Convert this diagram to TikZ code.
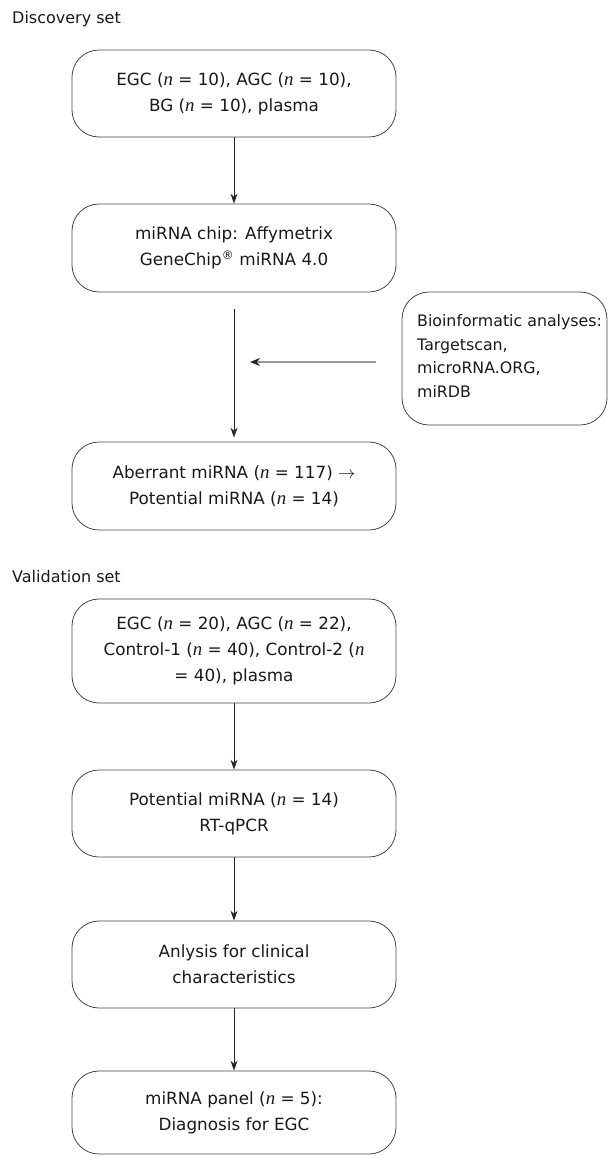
\documentclass[tikz,border=0pt]{standalone}
\usepackage{fontspec}
\setmainfont{DejaVu Sans}
\newfontfamily\nfont[Scale=1.12]{Liberation Serif}
\usetikzlibrary{arrows.meta}
\newcommand{\nn}{{\nfont\itshape n}}
\begin{document}
\begin{tikzpicture}[x=1pt,y=-1pt,
 box/.style={draw=black!72, line width=0.8pt, rounded corners=27pt, minimum width=324pt, align=center, font=\fontsize{16.8}{26}\selectfont, text=black!90, inner sep=0pt},
 sidebox/.style={draw=black!72, line width=0.8pt, rounded corners=27pt, minimum width=205pt, minimum height=133pt, inner sep=0pt},
 arr/.style={draw=black!85, line width=0.8pt, -{Stealth[length=10pt,width=7pt]}},
 grayarr/.style={draw=black!40, line width=1.3pt, -{Stealth[length=10pt,width=8pt,color=black!85]}},
 lbl/.style={anchor=west, font=\fontsize{16}{20}\selectfont, text=black!90, inner sep=0pt}]
\useasboundingbox (0,0) rectangle (608,1156);
\node[lbl] (disc) at (12,19) {Discovery set};
\node[box, minimum height=87pt] (b1) at (234,93.5) {EGC (\nn{} = 10), AGC (\nn{} = 10),\\BG (\nn{} = 10), plasma};
\node[box, minimum height=88pt] (b2) at (234,248) {miRNA chip: Affymetrix\\GeneChip\textsuperscript{\textregistered} miRNA 4.0};
\node[sidebox] (side) at (504.5,358.5) {};
\node[anchor=west, align=left, font=\fontsize{15.8}{23.4}\selectfont, text=black!90, inner sep=0pt] (sidetext) at (417,356) {Bioinformatic analyses:\\Targetscan,\\microRNA.ORG,\\miRDB};
\node[box, minimum height=88pt] (b3) at (234,486) {Aberrant miRNA (\nn{} = 117) $\rightarrow$\\Potential miRNA (\nn{} = 14)};
\node[lbl] (valid) at (12,577) {Validation set};
\node[box, minimum height=104pt] (b4) at (234,651) {EGC (\nn{} = 20), AGC (\nn{} = 22),\\Control-1 (\nn{} = 40), Control-2 (\nn{}\\= 40), plasma};
\node[box, minimum height=87pt] (b5) at (234,813.5) {Potential miRNA (\nn{} = 14)\\RT-qPCR};
\node[box, minimum height=87pt] (b6) at (234,964.5) {Anlysis for clinical\\characteristics};
\node[box, minimum height=83pt] (b7) at (234,1112.5) {miRNA panel (\nn{} = 5):\\Diagnosis for EGC};
\coordinate (s2) at (234,309);
\coordinate (hs) at (376,362);
\coordinate (he) at (250,362);
\draw[arr] (b1.south) -- (b2.north);
\draw[arr, shorten >=4pt] (s2) -- (b3.north);
\draw[grayarr] (hs) -- (he);
\draw[arr] (b4.south) -- (b5.north);
\draw[arr] (b5.south) -- (b6.north);
\draw[arr] (b6.south) -- (b7.north);
\end{tikzpicture}
\end{document}
